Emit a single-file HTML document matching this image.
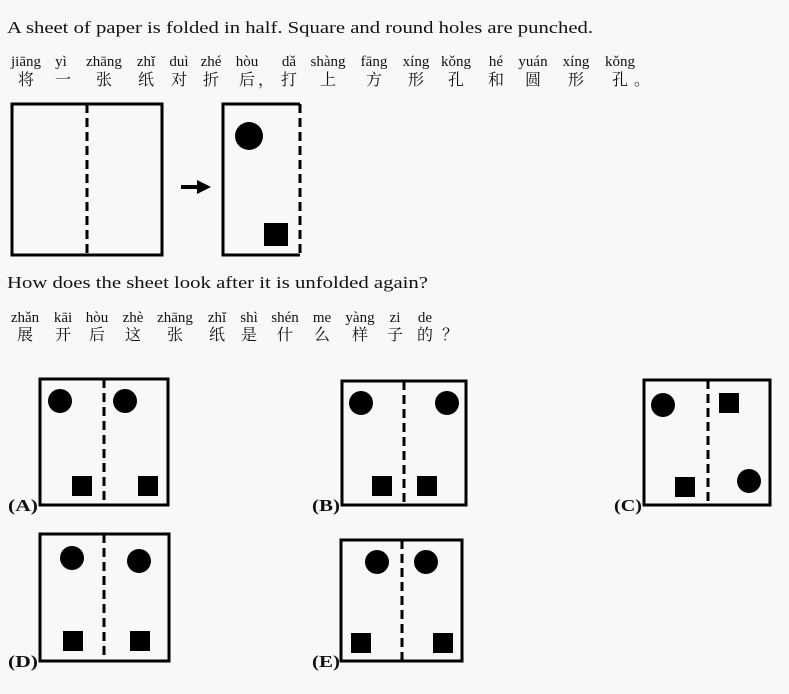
<!DOCTYPE html>
<html><head><meta charset="utf-8"><style>
html,body{margin:0;padding:0;background:#f8f8f8;}
svg{display:block;}
.t{font-family:"Liberation Serif",serif;font-size:17px;fill:#111;}
.p{font-family:"Liberation Serif",serif;font-size:15px;fill:#111;text-anchor:middle;}
.h{font-family:"Liberation Serif","Noto Serif CJK SC",serif;font-size:16px;fill:#111;text-anchor:middle;}
.l{font-family:"Liberation Serif",serif;font-size:17px;font-weight:bold;fill:#111;}
.b{fill:none;stroke:#000;stroke-width:3;}
.d{stroke:#000;stroke-width:3;stroke-dasharray:9,5;}
</style></head><body>
<svg width="789" height="694" viewBox="0 0 789 694">
<text class="t" x="7" y="33" textLength="586" lengthAdjust="spacingAndGlyphs">A sheet of paper is folded in half. Square and round holes are punched.</text>
<g class="p">
<text x="26" y="66">jiāng</text><text x="61" y="66">yì</text><text x="104" y="66">zhāng</text><text x="146" y="66">zhǐ</text><text x="179" y="66">duì</text><text x="211" y="66">zhé</text><text x="247" y="66">hòu</text><text x="289" y="66">dǎ</text><text x="328" y="66">shàng</text><text x="374" y="66">fāng</text><text x="416" y="66">xíng</text><text x="456" y="66">kǒng</text><text x="496" y="66">hé</text><text x="533" y="66">yuán</text><text x="576" y="66">xíng</text><text x="620" y="66">kǒng</text>
</g>
<g class="h">
<text x="26" y="85">将</text><text x="63" y="85">一</text><text x="104" y="85">张</text><text x="146" y="85">纸</text><text x="179" y="85">对</text><text x="211" y="85">折</text><text x="247" y="85">后</text><text x="266" y="85">，</text><text x="289" y="85">打</text><text x="328" y="85">上</text><text x="374" y="85">方</text><text x="416" y="85">形</text><text x="456" y="85">孔</text><text x="496" y="85">和</text><text x="533" y="85">圆</text><text x="576" y="85">形</text><text x="620" y="85">孔</text><text x="642" y="85">。</text>
</g>
<rect class="b" x="12" y="104" width="150" height="151"/>
<line class="d" x1="87" y1="104" x2="87" y2="255"/>
<line x1="181" y1="187" x2="200" y2="187" stroke="#000" stroke-width="4"/>
<polygon points="197,180 211,187 197,194" fill="#000"/>
<path class="b" d="M300,104 H223 V255 H300"/>
<line class="d" x1="300" y1="104" x2="300" y2="255"/>
<circle cx="249" cy="136" r="14"/>
<rect x="264" y="223" width="24" height="23"/>
<text class="t" x="7" y="288" textLength="421" lengthAdjust="spacingAndGlyphs">How does the sheet look after it is unfolded again?</text>
<g class="p">
<text x="25" y="322">zhǎn</text><text x="63" y="322">kāi</text><text x="97" y="322">hòu</text><text x="133" y="322">zhè</text><text x="175" y="322">zhāng</text><text x="217" y="322">zhǐ</text><text x="249" y="322">shì</text><text x="285" y="322">shén</text><text x="322" y="322">me</text><text x="360" y="322">yàng</text><text x="395" y="322">zi</text><text x="425" y="322">de</text>
</g>
<g class="h">
<text x="25" y="340">展</text><text x="63" y="340">开</text><text x="97" y="340">后</text><text x="133" y="340">这</text><text x="175" y="340">张</text><text x="217" y="340">纸</text><text x="249" y="340">是</text><text x="285" y="340">什</text><text x="322" y="340">么</text><text x="360" y="340">样</text><text x="395" y="340">子</text><text x="425" y="340">的</text><text x="450" y="340">？</text>
</g>
<rect class="b" x="40" y="379" width="128" height="126"/>
<line class="d" x1="104" y1="379" x2="104" y2="505"/>
<circle cx="60" cy="401" r="12"/><circle cx="125" cy="401" r="12"/>
<rect x="72" y="476" width="20" height="20"/><rect x="138" y="476" width="20" height="20"/>
<text class="l" x="8" y="511" textLength="30" lengthAdjust="spacingAndGlyphs">(A)</text>
<rect class="b" x="342" y="381" width="124" height="124"/>
<line class="d" x1="404" y1="381" x2="404" y2="505"/>
<circle cx="361" cy="403" r="12"/><circle cx="447" cy="403" r="12"/>
<rect x="372" y="476" width="20" height="20"/><rect x="417" y="476" width="20" height="20"/>
<text class="l" x="312" y="511" textLength="28" lengthAdjust="spacingAndGlyphs">(B)</text>
<rect class="b" x="644" y="380" width="126" height="125"/>
<line class="d" x1="708" y1="380" x2="708" y2="505"/>
<circle cx="663" cy="405" r="12"/><rect x="719" y="393" width="20" height="20"/>
<rect x="675" y="477" width="20" height="20"/><circle cx="749" cy="481" r="12"/>
<text class="l" x="614" y="511" textLength="28" lengthAdjust="spacingAndGlyphs">(C)</text>
<rect class="b" x="40" y="534" width="129" height="127"/>
<line class="d" x1="104" y1="534" x2="104" y2="661"/>
<circle cx="72" cy="558" r="12"/><circle cx="139" cy="561" r="12"/>
<rect x="63" y="631" width="20" height="20"/><rect x="130" y="631" width="20" height="20"/>
<text class="l" x="8" y="667" textLength="30" lengthAdjust="spacingAndGlyphs">(D)</text>
<rect class="b" x="341" y="540" width="121" height="121"/>
<line class="d" x1="402" y1="540" x2="402" y2="661"/>
<circle cx="377" cy="562" r="12"/><circle cx="426" cy="562" r="12"/>
<rect x="351" y="633" width="20" height="20"/><rect x="433" y="633" width="20" height="20"/>
<text class="l" x="312" y="667" textLength="28" lengthAdjust="spacingAndGlyphs">(E)</text>
</svg>
</body></html>
